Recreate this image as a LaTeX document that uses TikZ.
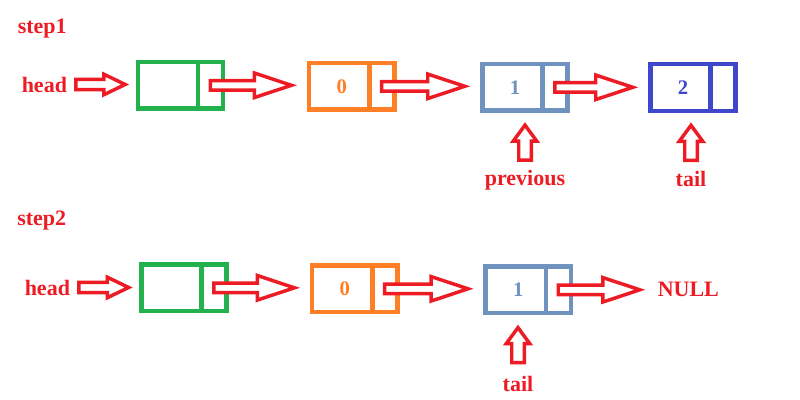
\documentclass[tikz,border=0pt]{standalone}
\usepackage{fontspec}
\setmainfont{Liberation Serif}
\usetikzlibrary{calc,positioning}
\definecolor{arrred}{RGB}{237, 28, 36}
\definecolor{celgreen}{RGB}{34, 177, 76}
\definecolor{celorange}{RGB}{255, 127, 39}
\definecolor{celgrey}{RGB}{112, 146, 190}
\definecolor{celblue}{RGB}{63, 72, 204}
\newcommand{\lblfont}{\bfseries\fontsize{16.5}{20}\selectfont}
\newcommand{\numfont}{\bfseries\fontsize{15.5}{18}\selectfont}
\tikzstyle{textonly} = [draw=none, fill=none, inner sep=0pt, text=arrred, font=\lblfont]
\tikzstyle{fatarrow} = [draw=arrred, fill=white, line width=2.6pt, line join=miter]
\tikzset{cell/.style={rectangle, draw=#1, text=#1, line width=3.4pt, minimum width=64pt, minimum height=35pt, inner sep=0pt, font=\numfont,
  path picture={\draw[#1, line width=3.4pt] ([xshift=-18.75pt]path picture bounding box.north east) -- ([xshift=-18.75pt]path picture bounding box.south east);}}}
% hollow block arrows: start, tip, body half, head half, head length
\newcommand{\fatright}[5]{%
  \draw[fatarrow] let \p1=(#1), \p2=(#2) in
    (\x1,\y1+#3) -- (\x2-#5,\y1+#3) -- (\x2-#5,\y1+#4) -- (\x2,\y1) -- (\x2-#5,\y1-#4) -- (\x2-#5,\y1-#3) -- (\x1,\y1-#3) -- cycle;}
% pointer from a label up to a cell
\newcommand{\fatup}[2]{%
  \draw[fatarrow] let \p1=(#1.north), \p2=(#2.south) in
    (\x1-4.7pt,\y2-35.4pt) -- (\x1-4.7pt,\y2-21.15pt) -- (\x1-8.8pt,\y2-21.15pt) -- (\x1,\y2-9.15pt) -- (\x1+8.8pt,\y2-21.15pt) -- (\x1+4.7pt,\y2-21.15pt) -- (\x1+4.7pt,\y2-35.4pt) -- cycle;}
\newcommand{\val}[1]{\makebox[15pt][l]{\makebox[0pt]{#1}}}

\begin{document}
\begin{tikzpicture}[x=0.75pt, y=-0.75pt]
\useasboundingbox (0,0) rectangle (800,400);

% step 1 =============================
\node[textonly, anchor=base west] (s1) at (17.5,33.5) {step1};
\node[textonly, anchor=base west] (head1) at (21.5,92) {head};
\node[cell=celgreen] (g1) at (180.5,85.3) {};
\node[cell=celorange] (o1) at (351.7,86.3) {\val{0}};
\node[cell=celgrey] (b1) at (525,87.3) {\val{1}};
\node[cell=celblue] (c1) at (693,87.5) {\val{2}};
\node[textonly, anchor=base] (prev1) at (525,185) {previous};
\node[textonly, anchor=base] (tail1) at (691,186.5) {tail};

% edges
\fatright{[xshift=6.4pt]head1.east}{[xshift=-7.8pt]g1.west}{3.9pt}{7.7pt}{16pt}
\fatright{[xshift=-11.25pt]g1.east}{[xshift=-11.5pt]o1.west}{3.56pt}{9.2pt}{27.75pt}
\fatright{[xshift=-11.25pt]o1.east}{[xshift=-11.5pt]b1.west}{3.56pt}{9.2pt}{27.75pt}
\fatright{[xshift=-11.25pt]b1.east}{[xshift=-11.5pt]c1.west}{3.56pt}{9.2pt}{27.75pt}
\fatup{prev1}{b1}
\fatup{tail1}{c1}

% step 2 =============================
\node[textonly, anchor=base west] (s2) at (17,225) {step2};
\node[textonly, anchor=base west] (head2) at (24.5,295) {head};
\node[cell=celgreen] (g2) at (184,287.8) {};
\node[cell=celorange] (o2) at (354.7,288.8) {\val{0}};
\node[cell=celgrey] (b2) at (528.3,289.8) {\val{1}};
\node[textonly, anchor=base west] (null2) at (657.5,296) {NULL};
\node[textonly, anchor=base] (tail2) at (518,391) {tail};

% edges
\fatright{[xshift=6.4pt]head2.east}{[xshift=-7.8pt]g2.west}{3.9pt}{7.7pt}{16pt}
\fatright{[xshift=-11.25pt]g2.east}{[xshift=-11.5pt]o2.west}{3.56pt}{9.2pt}{27.75pt}
\fatright{[xshift=-11.25pt]o2.east}{[xshift=-11.5pt]b2.west}{3.56pt}{9.2pt}{27.75pt}
\fatright{[xshift=-11.25pt]b2.east}{[xshift=-13.3pt]null2.west}{3.56pt}{9.2pt}{27.75pt}
\fatup{tail2}{b2}

\end{tikzpicture}
\end{document}
